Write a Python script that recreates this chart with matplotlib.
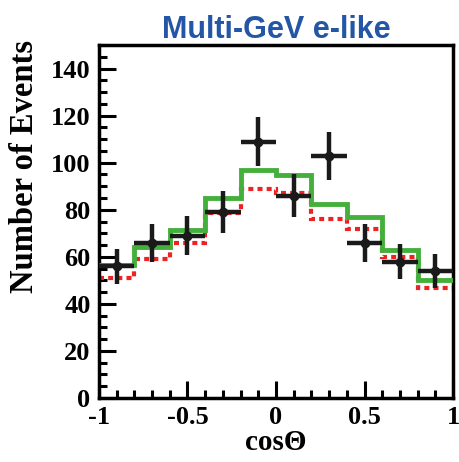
import numpy as np
import matplotlib.pyplot as plt
from matplotlib.ticker import MultipleLocator

# bin edges in cos(theta)
edges = [-1.0, -0.8, -0.6, -0.4, -0.2, 0.0, 0.2, 0.4, 0.6, 0.8, 1.0]
centers = [-0.9, -0.7, -0.5, -0.3, -0.1, 0.1, 0.3, 0.5, 0.7, 0.9]

# data points
data = [56, 66, 69, 79, 109, 86, 103, 66, 58, 54]
# MC with oscillation (green solid)
mc_osc = [56.6, 64.3, 71.4, 85.1, 96.7, 94.8, 82.4, 77.1, 62.9, 50.2]
# MC no oscillation (red dotted)
mc_noosc = [50.9, 59.0, 65.8, 78.5, 88.7, 87.0, 76.1, 71.8, 60.1, 46.7]

serif = "Liberation Serif"

fig = plt.figure(figsize=(4.6, 4.62), dpi=100)
ax = fig.add_axes([0.215, 0.1385, 0.77, 0.764])

# step histograms
ax.stairs(mc_noosc, edges, color="#ee2222", lw=3.0, linestyle=(0, (1.2, 1.0)),
          baseline=None, zorder=2)
ax.stairs(mc_osc, edges, color="#44b03c", lw=3.5, baseline=None, zorder=3)

# data with sqrt(N) errors and bin-width x errors
yerr = np.sqrt(data)
ax.errorbar(centers, data, xerr=0.1, yerr=yerr, fmt="o", color="#1a1a1a",
            ms=6, elinewidth=3.2, capsize=0, zorder=4)

ax.set_xlim(-1, 1)
ax.set_ylim(0, 150)
ax.xaxis.set_major_locator(MultipleLocator(0.5))
ax.xaxis.set_minor_locator(MultipleLocator(0.1))
ax.yaxis.set_major_locator(MultipleLocator(20))
ax.yaxis.set_minor_locator(MultipleLocator(5))
ax.set_xticks([-1, -0.5, 0, 0.5, 1])
ax.set_xticklabels(["-1", "-0.5", "0", "0.5", "1"])
ax.tick_params(which="both", direction="in", top=False, right=False, width=2.2)
ax.tick_params(which="major", length=12, labelsize=19, pad=6)
ax.tick_params(which="minor", length=6)
for lab in ax.get_xticklabels() + ax.get_yticklabels():
    lab.set_family(serif)
    lab.set_fontweight("bold")
for sp in ax.spines.values():
    sp.set_linewidth(2.5)

ax.set_xlabel("cos\u0398", family=serif, fontweight="bold", fontsize=21, labelpad=0)
ax.set_ylabel("Number of Events", family=serif, fontweight="bold", fontsize=23.5)
ax.yaxis.set_label_coords(-0.165, 0.655)
ax.set_title("Multi-GeV e-like", family="Liberation Sans", fontweight="bold",
             fontsize=22, color="#2456a6", pad=5)

fig.savefig("out.png", dpi=100)
